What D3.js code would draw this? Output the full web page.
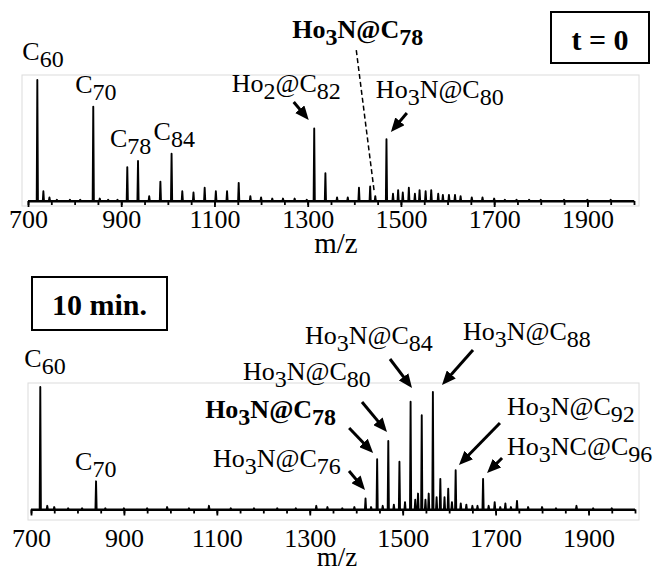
<!DOCTYPE html>
<html><head><meta charset="utf-8">
<script src="https://cdn.jsdelivr.net/npm/d3@7"></script>
<style>body{margin:0;background:#fff} svg{display:block}</style>
</head><body><svg id="c" width="658" height="573"></svg>
<script>
// ---------- data ----------
const xDomain = [700, 2000];
const majorTicks = [700, 900, 1100, 1300, 1500, 1700, 1900];
const minorTicks = [700,750,800,850,900,950,1000,1050,1100,1150,1200,1250,1300,1350,1400,1450,1500,1550,1600,1650,1700,1750,1800,1850,1900,1950,2000];

// t = 0 spectrum: [m/z, relative intensity]
const topPeaks = [
  [720,100],[733,8],[746,3],[762,1],[790,1],[812,1],[840,78],[854,2],[872,1],[892,1],
  [913,28],[936,33],[960,4],[984,16],[1008,39],[1031,8],[1055,7],[1079,11],[1103,8],[1127,8],
  [1152,15],[1177,4],[1200,3],[1224,2],[1247,2],[1272,2],[1298,1],[1314,60],[1338,23],[1363,3],
  [1386,3],[1410,11],[1434,12],[1445,4],[1469,51],[1483,6],[1494,9],[1504,7],[1517,11],[1530,6],
  [1540,9],[1553,8],[1565,9],[1580,6],[1590,5],[1603,5],[1616,5],[1628,4],[1652,3],[1675,3],
  [1700,2],[1723,1],[1748,1],[1775,1],[1800,1],[1850,1],[1900,1],[1950,1]
];
// 10 min. spectrum
const botPeaks = [
  [720,100],[735,3],[750,2],[780,1],[810,1],[840,23],[860,1],[900,1],[950,1],[993,2],
  [1040,1],[1083,3],[1130,1],[1180,1],[1230,1],[1270,1],[1314,3],[1338,2],[1370,1],[1396,2],
  [1420,9],[1432,2],[1445,41],[1457,3],[1469,56],[1481,4],[1493,39],[1505,6],[1517,88],[1527,8],
  [1533,13],[1541,77],[1549,8],[1556,13],[1565,96],[1573,10],[1581,25],[1590,10],[1598,17],[1606,6],
  [1614,32],[1625,5],[1637,4],[1650,3],[1661,3],[1673,25],[1685,3],[1698,6],[1710,2],[1721,5],
  [1733,2],[1746,7],[1770,2],[1800,2],[1830,1],[1874,3],[1910,1],[1950,1]
];

const topLabels = [
  {t:"C_60", mz:720, lx:-15, ly:-20},
  {t:"C_70", mz:840, lx:-18, ly:-13.6},
  {t:"C_78", mz:936, lx:-28, ly:-14},
  {t:"C_84", mz:1008, lx:-18, ly:-14},
  {t:"Ho_2@C_82", mz:1314, lx:-82.5, ly:-36.4, a:[-20.5,-26.4,-5.5,-8.4]},
  {t:"Ho_3N@C_78", mz:1445, bold:true, lx:-83, ly:-158, dash:[-19,-146,-1,-4]},
  {t:"Ho_3N@C_80", mz:1469, lx:-10.6, ly:-41.3, a:[20.4,-26.3,4.4,-7.3]}
];
const botLabels = [
  {t:"C_60", mz:720, lx:-16, ly:-20},
  {t:"C_70", mz:840, lx:-21, ly:-11.3},
  {t:"Ho_3N@C_76", mz:1420, lx:-152.5, ly:-31.5, a:[-16.5,-27.5,-0.5,-8.5]},
  {t:"Ho_3N@C_78", mz:1445, bold:true, lx:-172, ly:-41.3, a:[-28,-31.3,-4,-6.3]},
  {t:"Ho_3N@C_80", mz:1469, lx:-145.3, ly:-60.9, a:[-26.3,-38.9,-1.3,-8.9]},
  {t:"Ho_3N@C_84", mz:1517, lx:-105.6, ly:-57.7, a:[-20.6,-42.7,1.4,-13.7]},
  {t:"Ho_3N@C_88", mz:1565, lx:30.1, ly:-52, a:[40.1,-42,9.1,-7]},
  {t:"Ho_3N@C_92", mz:1614, lx:51.3, ly:-55.3, a:[44.3,-47.3,3.3,-5.3]},
  {t:"Ho_3NC@C_96", mz:1673, lx:24, ly:-23.9, a:[19,-20.9,4,-5.9]}
];

// ---------- layout ----------
const FONT = "'Liberation Serif','Times New Roman',serif";
const svg = d3.select("#c");
svg.append("defs").append("marker")
  .attr("id","ah").attr("viewBox","0 0 14 12").attr("refX",14).attr("refY",6)
  .attr("markerWidth",14).attr("markerHeight",12).attr("markerUnits","userSpaceOnUse")
  .attr("orient","auto")
  .append("path").attr("d","M0,0 L14,6 L0,12 Z").attr("fill","#000");

const panels = [
  {peaks: topPeaks, labels: topLabels, xr:[28,634], yr:[201,80], box:[22,75,639,206], tickY:27, mzX:336, mzY:253, mzSize:29,
   tag:{text:"t = 0", box:[551,12,649,63], ty:50}},
  {peaks: botPeaks, labels: botLabels, xr:[31,635], yr:[509.5,387], box:[28,383,639,520], tickY:37, mzX:337, mzY:566, mzSize:27,
   tag:{text:"10 min.", box:[32,277,167,330], ty:315}}
];

function rich(textSel, str, size, subSize, shift){
  const parts = str.split(/_(\d+)/);
  let cur = 0;
  parts.forEach((p,i)=>{
    if(p==="") return;
    const isSub = i%2===1;
    const ts = textSel.append("tspan").text(p);
    const target = isSub ? shift : 0;
    ts.attr("dy", target-cur); cur = target;
    ts.attr("font-size", isSub ? subSize : size);
  });
}

panels.forEach(P=>{
  const g = svg.append("g");
  const x = d3.scaleLinear().domain(xDomain).range(P.xr);
  const y = d3.scaleLinear().domain([0,100]).range(P.yr);
  // plot frame
  g.append("rect").attr("x",P.box[0]).attr("y",P.box[1])
    .attr("width",P.box[2]-P.box[0]).attr("height",P.box[3]-P.box[1])
    .attr("fill","none").attr("stroke","#dcdcdc").attr("stroke-width",1);
  // axes
  const ax = g.append("g").attr("transform",`translate(0,${P.yr[0]})`);
  ax.append("g").call(d3.axisBottom(x).tickValues(minorTicks).tickSize(4).tickSizeOuter(0).tickFormat(""))
    .call(s=>{s.select(".domain").attr("stroke","#000").attr("stroke-width",2);
              s.selectAll(".tick line").attr("stroke","#000").attr("stroke-width",1.8);});
  ax.append("g").call(d3.axisBottom(x).tickValues(majorTicks).tickSize(6).tickSizeOuter(0).tickFormat(d3.format("d")))
    .call(s=>{s.select(".domain").remove();
              s.selectAll(".tick line").attr("stroke","#000").attr("stroke-width",1.8);
              s.selectAll("text").attr("y",P.tickY).attr("dy",0).attr("fill","#000")
                .attr("font-family",FONT).attr("font-size",26);});
  // spectrum
  const hw = 1.3;
  const pts = [[xDomain[0],0]];
  P.peaks.slice().sort((a,b)=>a[0]-b[0]).forEach(([m,h])=>{
    pts.push([m-hw,0],[m,h],[m+hw,0]);
  });
  pts.push([xDomain[1],0]);
  g.append("path").datum(pts)
    .attr("d", d3.line().x(d=>x(d[0])).y(d=>y(d[1])))
    .attr("fill","none").attr("stroke","#000").attr("stroke-width",1.9).attr("stroke-linejoin","round");
  // m/z
  g.append("text").attr("x",P.mzX).attr("y",P.mzY).attr("text-anchor","middle")
    .attr("font-family",FONT).attr("font-size",P.mzSize).text("m/z");
  // labels
  const lookup = new Map(P.peaks.map(d=>[d[0],d[1]]));
  P.labels.forEach(L=>{
    const px = x(L.mz), py = y(lookup.get(L.mz));
    const t = g.append("text").attr("x",px+L.lx).attr("y",py+L.ly)
      .attr("font-family",FONT).attr("font-weight",L.bold?"bold":"normal");
    rich(t, L.t, 26, 24, 7);
    if(L.a){
      const [x1,y1,x2,y2] = L.a.map((v,i)=> i%2===0 ? px+v : py+v);
      const len = Math.hypot(x2-x1,y2-y1), k = (len-8)/len;
      g.append("line").attr("x1",x1).attr("y1",y1).attr("x2",x1+(x2-x1)*k).attr("y2",y1+(y2-y1)*k)
        .attr("stroke","#000").attr("stroke-width",3);
      g.append("line").attr("x1",x1).attr("y1",y1).attr("x2",x2).attr("y2",y2)
        .attr("stroke","none").attr("marker-end","url(#ah)");
    }
    if(L.dash){
      const [x1,y1,x2,y2] = L.dash.map((v,i)=> i%2===0 ? px+v : py+v);
      g.append("line").attr("x1",x1).attr("y1",y1).attr("x2",x2).attr("y2",y2)
        .attr("stroke","#000").attr("stroke-width",1.5).attr("stroke-dasharray","5,3");
    }
  });
  // tag box
  const b = P.tag.box;
  g.append("rect").attr("x",b[0]).attr("y",b[1]).attr("width",b[2]-b[0]).attr("height",b[3]-b[1])
    .attr("fill","#fff").attr("stroke","#000").attr("stroke-width",2);
  g.append("text").attr("x",(b[0]+b[2])/2).attr("y",P.tag.ty).attr("text-anchor","middle")
    .attr("font-family",FONT).attr("font-weight","bold").attr("font-size",30).text(P.tag.text);
});
</script></body></html>
